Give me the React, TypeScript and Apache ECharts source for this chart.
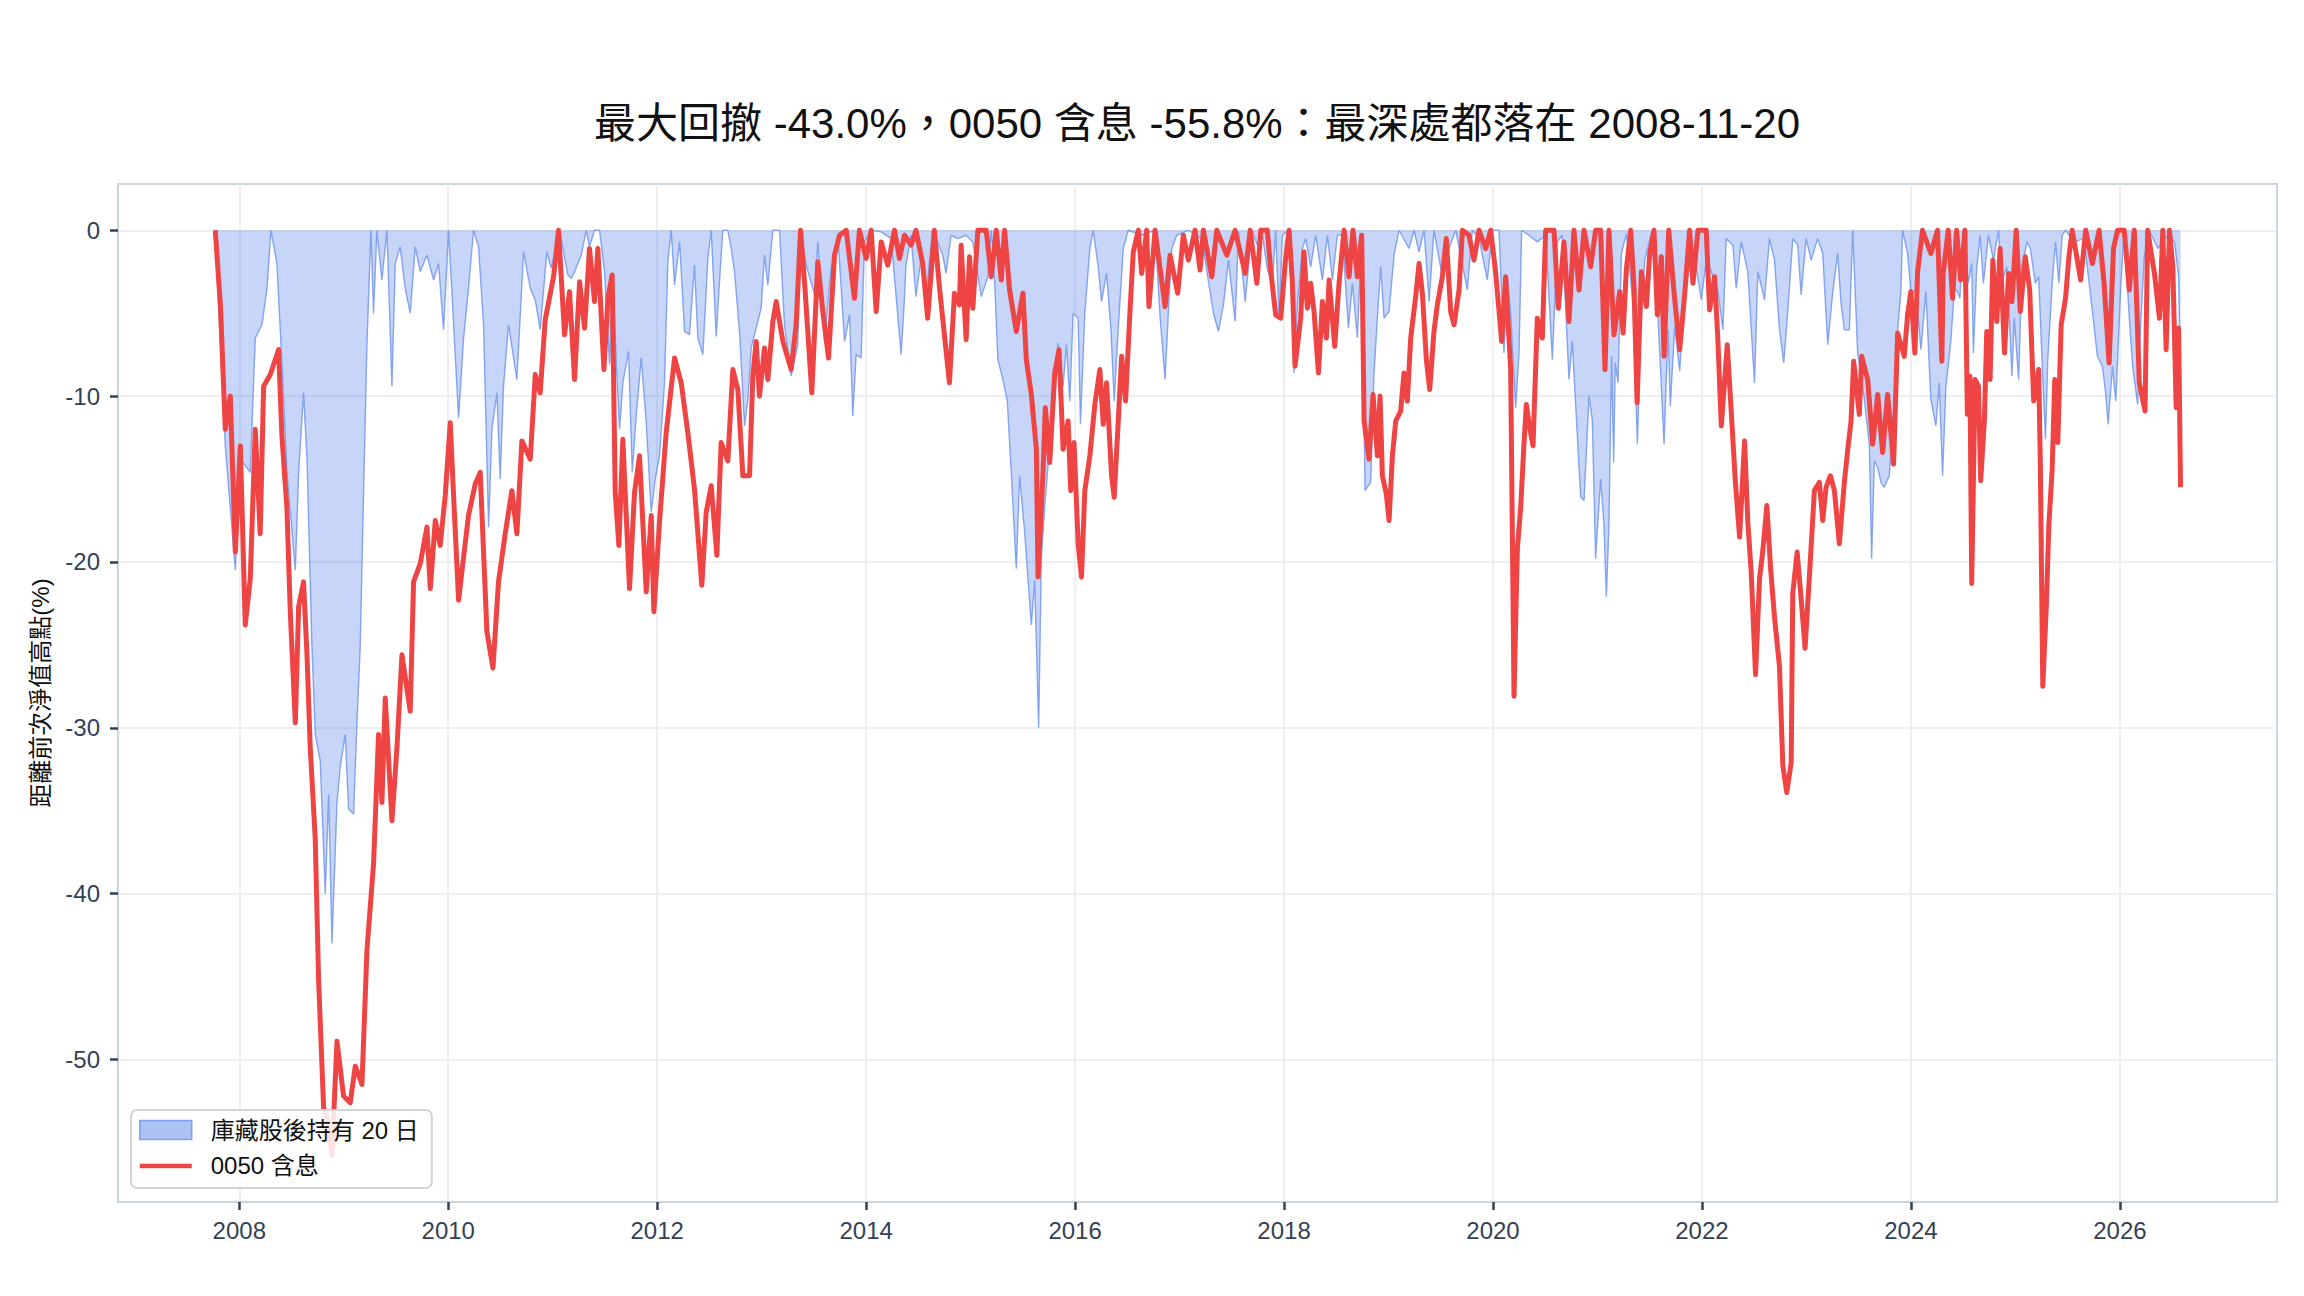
import React, { useEffect, useRef } from 'react';
import * as echarts from 'echarts';

// 標題與圖例文字
const TITLE = '最大回撤 -43.0%，0050 含息 -55.8%：最深處都落在 2008-11-20';
const Y_NAME = '距離前次淨值高點(%)';
const BUYBACK_NAME = '庫藏股後持有 20 日';
const ETF_NAME = '0050 含息';

// 刻度
const X_TICKS = [2008, 2010, 2012, 2014, 2016, 2018, 2020, 2022, 2024, 2026];
const Y_TICKS = [-50, -40, -30, -20, -10, 0];
const X_RANGE = [2006.839, 2027.504];
const Y_RANGE = [-58.59, 2.79];

// 庫藏股後持有 20 日：[年份(小數), 回撤%]
const buybackDD: [number, number][] = [
  [2007.77, 0], [2007.802, -4.6], [2007.866, -13], [2007.962, -20.5], [2008.01, -13.8],
  [2008.105, -14.6], [2008.153, -6.5], [2008.217, -5.7], [2008.265, -3.5], [2008.303, 0],
  [2008.36, -2], [2008.408, -8], [2008.456, -14.6], [2008.536, -20.5], [2008.568, -14.6],
  [2008.615, -9.8], [2008.648, -13.8], [2008.695, -25], [2008.727, -30.4], [2008.775, -32],
  [2008.823, -40], [2008.855, -34], [2008.887, -43], [2008.935, -34.5], [2008.967, -32.3],
  [2009.014, -30.4], [2009.046, -34.9], [2009.094, -35.2], [2009.126, -29.7], [2009.158, -25],
  [2009.19, -15.7], [2009.222, -6.8], [2009.26, 0], [2009.285, -5], [2009.317, 0],
  [2009.365, -3], [2009.413, 0], [2009.461, -9.4], [2009.493, -2], [2009.54, -1],
  [2009.588, -3.5], [2009.636, -5], [2009.684, -1], [2009.732, -2.5], [2009.796, -1.5],
  [2009.86, -3], [2009.907, -2], [2009.955, -6], [2010.003, 0], [2010.099, -11.3],
  [2010.147, -6.5], [2010.194, -3.5], [2010.242, 0], [2010.29, -1], [2010.338, -5.7],
  [2010.386, -17.9], [2010.418, -12], [2010.466, -9.8], [2010.497, -15], [2010.529, -9.4],
  [2010.577, -5.7], [2010.657, -9], [2010.721, -1.3], [2010.785, -3.5], [2010.833, -4.2],
  [2010.88, -6], [2010.944, -1.3], [2010.986, -2.3], [2011.065, 0], [2011.145, -2.7],
  [2011.177, -2.9], [2011.209, -2.5], [2011.273, -1.5], [2011.321, 0], [2011.352, -1],
  [2011.4, 0], [2011.448, 0], [2011.496, -2.5], [2011.544, -8.1], [2011.576, -2.7],
  [2011.608, -8], [2011.64, -12], [2011.671, -9.2], [2011.726, -7.3], [2011.761, -14.6],
  [2011.799, -11.2], [2011.847, -7.7], [2011.895, -11.6], [2011.943, -17], [2011.981, -15],
  [2012.022, -13.6], [2012.07, -9.2], [2012.102, -1.9], [2012.134, 0], [2012.166, -3.3],
  [2012.214, -0.7], [2012.262, -6.1], [2012.309, -6.3], [2012.357, -2.1], [2012.389, -6.5],
  [2012.437, -7.5], [2012.485, -1.7], [2012.517, 0], [2012.565, -6.4], [2012.596, -3.1],
  [2012.628, 0], [2012.676, 0], [2012.708, -1.1], [2012.74, -2.5], [2012.788, -6.1],
  [2012.836, -11.8], [2012.868, -10.2], [2012.9, -7.1], [2012.947, -5.9], [2012.995, -4.7],
  [2013.027, -1.5], [2013.059, -3.3], [2013.107, 0], [2013.171, 0], [2013.218, -5.7],
  [2013.282, -8.8], [2013.346, -6.9], [2013.372, 0], [2013.426, -2.1], [2013.506, -3.9],
  [2013.537, -0.7], [2013.601, -6.7], [2013.665, -2.3], [2013.729, -0.3], [2013.793, -6.7],
  [2013.841, -5.1], [2013.872, -11.2], [2013.904, -7.5], [2013.952, -7.7], [2013.984, -0.7],
  [2014.048, 0], [2014.144, -0.1], [2014.239, -0.5], [2014.335, -7.5], [2014.367, -4.1],
  [2014.381, -2.1], [2014.429, -0.3], [2014.477, -4], [2014.525, -1.7], [2014.573, -4],
  [2014.637, 0], [2014.733, -1.5], [2014.765, -2.6], [2014.813, -0.3], [2014.877, -0.5],
  [2014.957, -0.3], [2015.021, -0.7], [2015.101, -4], [2015.165, -2.8], [2015.197, 0],
  [2015.229, -3], [2015.261, -7.8], [2015.309, -9], [2015.351, -10.3], [2015.389, -14.6],
  [2015.437, -20.4], [2015.469, -14.8], [2015.517, -18.2], [2015.581, -23.8], [2015.613, -21.1],
  [2015.651, -30], [2015.677, -19.8], [2015.709, -16.7], [2015.741, -14.2], [2015.789, -11.9],
  [2015.837, -6.8], [2015.885, -9.4], [2015.917, -6.9], [2015.949, -10.3], [2015.981, -5],
  [2016.029, -5.3], [2016.051, -11.7], [2016.093, -5], [2016.141, -1.1], [2016.173, 0],
  [2016.221, -2.2], [2016.253, -4.3], [2016.301, -2.6], [2016.342, -5.9], [2016.374, -10.3],
  [2016.413, -5.9], [2016.461, -1.1], [2016.509, 0], [2016.637, -0.3], [2016.765, 0],
  [2016.813, -5.2], [2016.861, -9], [2016.893, -4.9], [2016.925, -1.1], [2016.973, -0.3],
  [2017.084, 0], [2017.212, -0.5], [2017.324, -5], [2017.372, -6.1], [2017.42, -4.5],
  [2017.468, -1.8], [2017.532, -5.5], [2017.564, -0.1], [2017.628, -4.3], [2017.692, 0],
  [2017.756, -1.1], [2017.793, -0.3], [2017.841, -2.4], [2017.888, -3.2], [2017.92, 0],
  [2017.952, -5.3], [2017.984, -0.3], [2018.048, 0], [2018.096, -8.6], [2018.128, -4.5],
  [2018.175, -1.1], [2018.207, -0.5], [2018.255, -2.2], [2018.303, -0.3], [2018.367, -3],
  [2018.415, -0.3], [2018.463, -3], [2018.51, -0.3], [2018.558, -0.3], [2018.616, -5.9],
  [2018.654, -3.2], [2018.702, -6.5], [2018.743, -0.3], [2018.775, -15.7], [2018.829, -15.2],
  [2018.861, -8.6], [2018.893, -5.3], [2018.925, -2.2], [2018.957, -5.3], [2019.005, -4.9],
  [2019.053, -1.5], [2019.1, 0], [2019.196, -1.1], [2019.244, 0], [2019.292, -1.3],
  [2019.34, 0], [2019.388, -4.3], [2019.435, 0], [2019.515, -2.8], [2019.579, -1.1],
  [2019.643, 0], [2019.754, -3.6], [2019.802, 0], [2019.866, -0.5], [2019.946, -3],
  [2019.994, 0], [2020.057, 0], [2020.105, -7.4], [2020.137, -2.8], [2020.169, -5.1],
  [2020.217, -10.7], [2020.249, -7.4], [2020.274, 0], [2020.344, -0.3], [2020.424, -0.7],
  [2020.504, -0.3], [2020.568, -7.8], [2020.616, -0.7], [2020.663, -0.3], [2020.727, -9],
  [2020.759, -6.7], [2020.791, -10.5], [2020.839, -16.1], [2020.871, -16.3], [2020.919, -10],
  [2020.951, -11.5], [2020.982, -19.8], [2021.03, -15], [2021.062, -17.7], [2021.085, -22.1],
  [2021.11, -17.7], [2021.135, -7.6], [2021.155, -14], [2021.17, -8], [2021.197, -9.2],
  [2021.229, -1.4], [2021.277, -0.2], [2021.341, -4.6], [2021.382, -12.9], [2021.414, -6],
  [2021.452, -1.8], [2021.516, -0.2], [2021.58, -5.3], [2021.637, -12.9], [2021.675, -6],
  [2021.697, -10.6], [2021.739, -5.8], [2021.787, -8.5], [2021.834, -3.7], [2021.898, -1.8],
  [2021.946, -2.3], [2021.994, -4.2], [2022.041, -1.8], [2022.089, -2.5], [2022.153, -3.7],
  [2022.201, -6], [2022.232, -0.5], [2022.296, -0.9], [2022.328, -3.5], [2022.376, -0.7],
  [2022.439, -2.5], [2022.503, -9.2], [2022.535, -2.5], [2022.599, -4.2], [2022.646, -0.5],
  [2022.694, -1.8], [2022.742, -6], [2022.783, -8], [2022.822, -4.8], [2022.869, -0.5],
  [2022.917, -0.9], [2022.949, -3.9], [2022.997, -0.5], [2023.045, -1.8], [2023.108, -0.5],
  [2023.156, -1.4], [2023.204, -6.9], [2023.252, -3.7], [2023.299, -1.4], [2023.331, -4.4],
  [2023.363, -6], [2023.411, -6], [2023.443, 0], [2023.49, -7.4], [2023.554, -10.2],
  [2023.602, -12.9], [2023.624, -19.8], [2023.65, -13.9], [2023.682, -14.3], [2023.713, -15.2],
  [2023.745, -15.5], [2023.793, -14.8], [2023.841, -10.2], [2023.873, -6], [2023.904, -3.7],
  [2023.92, 0], [2023.968, -1.4], [2024.0, -3.7], [2024.048, -3.7], [2024.096, -7.2],
  [2024.143, -3.7], [2024.191, -10.2], [2024.239, -11.8], [2024.271, -9.2], [2024.303, -14.8],
  [2024.334, -9.5], [2024.382, -6.7], [2024.414, -3.7], [2024.437, -3.6], [2024.469, -4.1],
  [2024.501, 0], [2024.549, -3.2], [2024.582, -2], [2024.598, -7.4], [2024.629, -2.4],
  [2024.662, -0.3], [2024.694, -3.2], [2024.742, -0.3], [2024.79, -1.8], [2024.838, 0],
  [2024.87, -3.2], [2024.918, -2.2], [2024.967, -8.8], [2024.989, -5.3], [2025.031, -9],
  [2025.063, -2.2], [2025.111, -0.7], [2025.143, -1.1], [2025.191, -3.2], [2025.223, -2.8],
  [2025.255, -7.8], [2025.288, -12.6], [2025.31, -7.8], [2025.352, -3.2], [2025.384, -0.7],
  [2025.416, -3.2], [2025.448, -0.3], [2025.48, 0], [2025.56, -0.7], [2025.657, -0.5],
  [2025.737, -4.9], [2025.785, -7.6], [2025.833, -8.2], [2025.865, -9.9], [2025.888, -11.7],
  [2025.929, -8.2], [2025.961, -10.3], [2026.01, -3.2], [2026.042, 0], [2026.09, -5.3],
  [2026.122, -8.2], [2026.17, -10.5], [2026.202, -5.3], [2026.234, -1.6], [2026.282, 0],
  [2026.363, -1.1], [2026.459, -0.3], [2026.523, -0.7], [2026.562, -2.8], [2026.581, -9],
];

// 0050 含息：[年份(小數), 回撤%]
const etfDD: [number, number][] = [
  [2007.77, 0], [2007.82, -4.6], [2007.866, -12], [2007.914, -10], [2007.962, -19.4],
  [2008.01, -13], [2008.057, -23.8], [2008.105, -21], [2008.153, -12], [2008.2, -18.3],
  [2008.233, -9.4], [2008.297, -8.7], [2008.376, -7.2], [2008.408, -12.4], [2008.456, -16.8],
  [2008.488, -23], [2008.536, -29.7], [2008.568, -22.7], [2008.615, -21.2], [2008.648, -25.6],
  [2008.679, -31.2], [2008.727, -36.7], [2008.759, -45.2], [2008.807, -52.9], [2008.84, -53.5],
  [2008.887, -55.8], [2008.935, -48.9], [2008.998, -52.2], [2009.062, -52.6], [2009.11, -50.4],
  [2009.174, -51.5], [2009.222, -43.4], [2009.285, -38.2], [2009.333, -30.4], [2009.365, -34.5],
  [2009.397, -28.2], [2009.461, -35.6], [2009.509, -31.2], [2009.557, -25.6], [2009.636, -29],
  [2009.668, -21.2], [2009.732, -20.1], [2009.796, -17.9], [2009.828, -21.6], [2009.876, -17.5],
  [2009.923, -19], [2009.971, -16], [2010.019, -11.6], [2010.051, -16], [2010.099, -22.3],
  [2010.147, -19.7], [2010.194, -17.2], [2010.258, -15.3], [2010.306, -14.6], [2010.37, -24.2],
  [2010.428, -26.4], [2010.481, -21.2], [2010.545, -18.3], [2010.609, -15.7], [2010.657, -18.3],
  [2010.705, -12.7], [2010.785, -13.8], [2010.833, -8.7], [2010.88, -9.8], [2010.928, -5.4],
  [2011.008, -2.8], [2011.056, 0], [2011.113, -6.3], [2011.161, -3.7], [2011.209, -9],
  [2011.257, -3.1], [2011.305, -5.9], [2011.352, -1.1], [2011.4, -4.3], [2011.432, -1.1],
  [2011.49, -8.4], [2011.528, -4.1], [2011.569, -2.7], [2011.598, -15.8], [2011.633, -19],
  [2011.671, -12.6], [2011.735, -21.6], [2011.783, -15.8], [2011.831, -13.6], [2011.895, -21.8],
  [2011.943, -17.2], [2011.968, -23], [2012.022, -17.6], [2012.086, -12.2], [2012.166, -7.7],
  [2012.23, -9.2], [2012.293, -12.2], [2012.357, -15.6], [2012.427, -21.4], [2012.469, -17],
  [2012.517, -15.4], [2012.571, -19.6], [2012.612, -12.8], [2012.676, -13.9], [2012.724, -8.4],
  [2012.772, -9.6], [2012.82, -14.8], [2012.884, -14.8], [2012.915, -8.8], [2012.947, -6.7],
  [2012.979, -10], [2013.027, -7.1], [2013.059, -9], [2013.107, -5.5], [2013.139, -4.3],
  [2013.203, -6.7], [2013.282, -8.4], [2013.33, -5.7], [2013.372, 0], [2013.41, -3.1],
  [2013.48, -9.8], [2013.537, -1.9], [2013.585, -4.9], [2013.64, -7.7], [2013.697, -1.5],
  [2013.745, -0.3], [2013.809, 0], [2013.888, -4.1], [2013.936, 0], [2014.0, -1.7],
  [2014.048, 0], [2014.096, -4.9], [2014.144, -0.7], [2014.207, -2.1], [2014.271, 0],
  [2014.319, -1.7], [2014.367, -0.3], [2014.431, -0.9], [2014.477, 0], [2014.541, -2],
  [2014.589, -5.3], [2014.653, 0], [2014.701, -3.4], [2014.749, -6.3], [2014.797, -9.2],
  [2014.845, -3.8], [2014.893, -4.5], [2014.909, -0.9], [2014.957, -6.6], [2014.989, -1.6],
  [2015.021, -4.7], [2015.069, 0], [2015.149, 0], [2015.197, -2.8], [2015.245, 0],
  [2015.293, -3], [2015.325, 0], [2015.373, -3.6], [2015.437, -6.1], [2015.501, -3.8],
  [2015.533, -7.8], [2015.581, -9.9], [2015.629, -13.2], [2015.645, -20.9], [2015.693, -14.6],
  [2015.715, -10.7], [2015.757, -14], [2015.805, -8.6], [2015.846, -7.2], [2015.885, -13.2],
  [2015.933, -11.5], [2015.958, -15.7], [2015.99, -12.8], [2016.029, -18.9], [2016.061, -20.9],
  [2016.093, -15.7], [2016.141, -13.6], [2016.189, -10.5], [2016.237, -8.4], [2016.269, -11.7],
  [2016.301, -9.2], [2016.349, -14.8], [2016.374, -16.1], [2016.413, -11.5], [2016.445, -7.6],
  [2016.483, -10.3], [2016.525, -4.9], [2016.557, -1.3], [2016.605, 0], [2016.637, -2.6],
  [2016.685, 0], [2016.707, -4.6], [2016.765, 0], [2016.861, -4.6], [2016.909, -1.5],
  [2016.982, -3.8], [2017.036, -0.3], [2017.084, -1.8], [2017.148, 0], [2017.196, -2.4],
  [2017.228, 0], [2017.308, -2.8], [2017.356, 0], [2017.452, -1.5], [2017.532, 0],
  [2017.628, -2.6], [2017.676, 0], [2017.74, -3.2], [2017.777, 0], [2017.84, 0],
  [2017.872, -2.4], [2017.92, -5.1], [2017.968, -5.3], [2018.016, -1.6], [2018.048, 0],
  [2018.08, -3.2], [2018.105, -8.2], [2018.159, -5.3], [2018.191, -1.3], [2018.223, -4.7],
  [2018.255, -3.2], [2018.287, -4.9], [2018.329, -8.6], [2018.367, -4.3], [2018.405, -6.5],
  [2018.431, -3], [2018.485, -7], [2018.526, -3.2], [2018.574, 0], [2018.622, -2.8],
  [2018.66, 0], [2018.702, -2.8], [2018.743, -0.3], [2018.766, -11.5], [2018.813, -13.8],
  [2018.852, -9.9], [2018.893, -13.6], [2018.919, -10], [2018.941, -14.8], [2018.979, -15.9],
  [2019.005, -17.5], [2019.037, -13.6], [2019.069, -11.5], [2019.116, -10.9], [2019.148, -8.6],
  [2019.18, -10.3], [2019.212, -6.5], [2019.26, -4], [2019.292, -2], [2019.324, -3.8],
  [2019.362, -7.8], [2019.394, -9.6], [2019.435, -6.1], [2019.467, -4.5], [2019.515, -2.8],
  [2019.553, -0.5], [2019.595, -4.9], [2019.627, -5.7], [2019.675, -3.6], [2019.707, 0],
  [2019.77, -0.3], [2019.818, -1.8], [2019.866, 0], [2019.93, -1.1], [2019.978, 0],
  [2020.026, -2.6], [2020.083, -6.7], [2020.121, -2.8], [2020.169, -8.4], [2020.201, -28.1],
  [2020.233, -19.2], [2020.265, -16.7], [2020.297, -12.8], [2020.319, -10.5], [2020.351, -11.9],
  [2020.383, -13], [2020.424, -5.3], [2020.472, -6.5], [2020.504, 0], [2020.584, 0],
  [2020.625, -4.7], [2020.679, -0.7], [2020.727, -5.5], [2020.775, 0], [2020.823, -3.6],
  [2020.871, 0], [2020.935, -2.2], [2020.982, 0], [2021.03, 0], [2021.072, -8.4],
  [2021.11, 0], [2021.158, -6.3], [2021.213, -3.7], [2021.245, -6.2], [2021.277, -2.3],
  [2021.318, 0], [2021.35, -3.5], [2021.379, -10.4], [2021.42, -2.5], [2021.468, -4.6],
  [2021.5, -1.4], [2021.541, 0], [2021.573, -5.1], [2021.611, -1.6], [2021.637, -7.6],
  [2021.682, 0], [2021.732, -3.7], [2021.787, -7.2], [2021.834, -3.9], [2021.882, 0],
  [2021.914, -3.2], [2021.962, 0], [2022.041, 0], [2022.073, -4.8], [2022.121, -2.8],
  [2022.153, -6.7], [2022.185, -11.8], [2022.242, -6.9], [2022.28, -10.9], [2022.318, -15],
  [2022.36, -18.5], [2022.408, -12.7], [2022.439, -17.6], [2022.471, -20.6], [2022.513, -26.8],
  [2022.551, -21], [2022.583, -19.3], [2022.621, -16.6], [2022.656, -20.3], [2022.694, -23.3],
  [2022.742, -26.3], [2022.774, -32.3], [2022.812, -33.9], [2022.854, -32.1], [2022.869, -21.9],
  [2022.911, -19.4], [2022.949, -22.2], [2022.987, -25.2], [2023.029, -20.8], [2023.076, -15.7],
  [2023.124, -15.2], [2023.156, -17.5], [2023.188, -15.5], [2023.229, -14.8], [2023.268, -15.7],
  [2023.315, -18.9], [2023.363, -15.2], [2023.401, -12.9], [2023.427, -11.5], [2023.452, -7.9],
  [2023.506, -11.1], [2023.529, -7.6], [2023.586, -9], [2023.634, -12.9], [2023.682, -9.9],
  [2023.729, -13.4], [2023.777, -9.9], [2023.834, -14.1], [2023.873, -6.2], [2023.936, -7.6],
  [2023.968, -5.1], [2024.0, -3.7], [2024.038, -7.4], [2024.064, -2.5], [2024.111, 0],
  [2024.191, -1.4], [2024.255, 0], [2024.296, -7.9], [2024.309, -2.6], [2024.357, 0],
  [2024.399, -4.1], [2024.437, 0], [2024.476, -3], [2024.517, 0], [2024.54, -11.1],
  [2024.565, -8.8], [2024.582, -21.3], [2024.614, -9], [2024.646, -9.4], [2024.668, -15.1],
  [2024.703, -11.5], [2024.726, -6.1], [2024.758, -9], [2024.784, -1.8], [2024.822, -5.5],
  [2024.854, -1.1], [2024.896, -7.4], [2024.935, -2.6], [2024.967, -4.3], [2025.008, 0],
  [2025.047, -4.9], [2025.095, -1.6], [2025.137, -3.6], [2025.175, -10.3], [2025.223, -8.4],
  [2025.239, -14.2], [2025.262, -27.5], [2025.297, -22.5], [2025.32, -17.8], [2025.352, -14.4],
  [2025.377, -9], [2025.406, -12.8], [2025.438, -5.7], [2025.48, -4.1], [2025.512, -1.6],
  [2025.544, 0], [2025.625, -3], [2025.673, 0], [2025.737, -2], [2025.801, 0],
  [2025.849, -3.2], [2025.897, -8], [2025.939, -1.1], [2025.978, 0], [2026.042, 0],
  [2026.09, -3.6], [2026.138, 0], [2026.186, -9.2], [2026.241, -10.9], [2026.266, 0],
  [2026.331, -2.6], [2026.379, -5.3], [2026.411, 0], [2026.443, -7.2], [2026.475, 0],
  [2026.507, -2.2], [2026.539, -10.7], [2026.562, -5.9], [2026.581, -15.5],
];

const FONT = '"Liberation Sans", "Noto Sans CJK TC", sans-serif';
const TICK_COLOR = '#334155';
const FRAME_COLOR = '#cbd5e1';

export default function App() {
  const chartRef = useRef<HTMLDivElement>(null);

  useEffect(() => {
    if (!chartRef.current) return;
    document.body.style.margin = '0';

    const chart = echarts.init(chartRef.current, undefined, { renderer: 'svg' });

    const option: echarts.EChartsOption = {
      animation: false,
      backgroundColor: '#ffffff',
      textStyle: { fontFamily: FONT },
      title: {
        text: TITLE,
        left: 1197,
        top: 102,
        padding: 0,
        textAlign: 'center',
        textStyle: { fontSize: 42, fontWeight: 'normal', color: '#111111', fontFamily: FONT },
      },
      grid: {
        left: 118,
        right: 27,
        top: 184,
        bottom: 94,
        show: true,
        borderColor: FRAME_COLOR,
        borderWidth: 2,
        backgroundColor: 'transparent',
      },
      legend: {
        orient: 'vertical',
        left: 131,
        top: 1110,
        padding: [8, 13, 10, 8],
        itemWidth: 52,
        itemHeight: 19,
        itemGap: 12,
        backgroundColor: 'rgba(255,255,255,0.85)',
        borderColor: '#d4d4d8',
        borderWidth: 2,
        borderRadius: 6,
        textStyle: { fontSize: 24, color: '#111111', fontFamily: FONT, padding: [0, 0, 0, 14] },
        data: [
          {
            name: BUYBACK_NAME,
            icon: 'rect',
            itemStyle: { color: 'rgba(100,140,235,0.52)', borderColor: 'rgba(100,140,235,0.75)', borderWidth: 1.5 },
          },
          {
            name: ETF_NAME,
            icon: 'path://M0,0 L52,0 L52,4.5 L0,4.5 Z',
            itemStyle: { color: '#ef4444' },
          },
        ],
      },
      xAxis: {
        type: 'value',
        position: 'bottom',
        min: X_RANGE[0],
        max: X_RANGE[1],
        axisLine: { show: true, onZero: false, lineStyle: { color: FRAME_COLOR, width: 2 } },
        axisTick: {
          show: true,
          length: 8,
          customValues: X_TICKS,
          lineStyle: { color: TICK_COLOR, width: 2.5 },
        },
        axisLabel: {
          customValues: X_TICKS,
          margin: 16,
          fontSize: 24,
          color: TICK_COLOR,
          fontFamily: FONT,
          formatter: (v: number) => String(v),
        },
        splitLine: { show: true, lineStyle: { color: '#e8eaee', width: 1.5 } },
      },
      yAxis: {
        type: 'value',
        position: 'left',
        min: Y_RANGE[0],
        max: Y_RANGE[1],
        name: Y_NAME,
        nameLocation: 'middle',
        nameGap: 66,
        nameTextStyle: { fontSize: 24, color: '#111111', fontFamily: FONT },
        axisLine: { show: true, onZero: false, lineStyle: { color: FRAME_COLOR, width: 2 } },
        axisTick: {
          show: true,
          length: 8,
          customValues: Y_TICKS,
          lineStyle: { color: TICK_COLOR, width: 2.5 },
        },
        axisLabel: {
          customValues: Y_TICKS,
          margin: 18,
          fontSize: 24,
          color: TICK_COLOR,
          fontFamily: FONT,
          formatter: (v: number) => String(v),
        },
        splitLine: { show: true, lineStyle: { color: '#e8eaee', width: 1.5 } },
      },
      series: [
        {
          name: BUYBACK_NAME,
          type: 'line',
          data: buybackDD,
          showSymbol: false,
          symbol: 'none',
          lineStyle: { color: 'rgba(100,140,235,0.75)', width: 1.4 },
          itemStyle: { color: 'rgba(100,140,235,0.75)' },
          areaStyle: { color: 'rgba(100,140,235,0.52)', origin: 0 },
          z: 2,
        },
        {
          name: ETF_NAME,
          type: 'line',
          data: etfDD,
          showSymbol: false,
          symbol: 'none',
          lineStyle: { color: '#ef4444', width: 5, join: 'round' },
          itemStyle: { color: '#ef4444' },
          z: 3,
        },
      ],
    };

    chart.setOption(option);

    const handleResize = () => chart.resize();
    window.addEventListener('resize', handleResize);
    return () => {
      window.removeEventListener('resize', handleResize);
      chart.dispose();
    };
  }, []);

  return <div ref={chartRef} style={{ width: 2304, height: 1296 }} />;
}
